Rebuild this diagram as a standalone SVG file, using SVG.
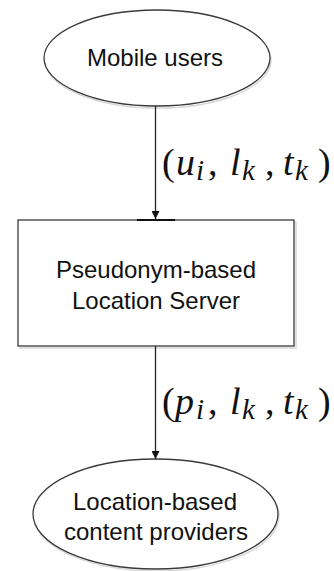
<svg xmlns="http://www.w3.org/2000/svg" width="334" height="571" viewBox="0 0 334 571">
  <style>
    .shape { fill: #ffffff; stroke: #3a3a3a; stroke-width: 1.3; }
    .shadow { fill: none; stroke: #d8d8d8; stroke-width: 1.5; }
    .label { font-family: "Liberation Sans", Arial, sans-serif; font-size: 24px; fill: #111111; text-anchor: middle; }
    .math { font-family: "Liberation Serif", "Times New Roman", serif; font-size: 38px; fill: #111111; }
    .it { font-style: italic; }
    .sub { font-style: italic; font-size: 29px; }
    .edge { stroke: #222222; stroke-width: 1.3; fill: none; }
  </style>
  <defs>
    <marker id="arrow" markerWidth="9" markerHeight="8" refX="8" refY="4" orient="auto" markerUnits="userSpaceOnUse">
      <path d="M0,0 L8,4 L0,8 Z" fill="#111111"/>
    </marker>
  </defs>
  <rect width="334" height="571" fill="#ffffff"/>

  <g id="mobile-users">
    <ellipse class="shadow" cx="158" cy="60" rx="113" ry="48"/>
    <ellipse class="shape" cx="157" cy="58" rx="113" ry="48"/>
    <text class="label" x="155" y="66">Mobile users</text>
  </g>

  <g id="location-server">
    <rect class="shadow" x="20" y="222" width="276" height="126"/>
    <rect class="shape" x="18" y="220" width="276" height="126"/>
    <line x1="137" y1="220" x2="175" y2="220" stroke="#111111" stroke-width="2"/>
    <text class="label" x="156" y="278">Pseudonym-based</text>
    <text class="label" x="156" y="309">Location Server</text>
  </g>

  <g id="content-providers">
    <ellipse class="shadow" cx="156.5" cy="516" rx="122.5" ry="55"/>
    <ellipse class="shape" cx="155.5" cy="514" rx="122.5" ry="55"/>
    <text class="label" x="155" y="510">Location-based</text>
    <text class="label" x="156" y="540">content providers</text>
  </g>

  <g id="connectors">
    <line class="edge" x1="155.5" y1="106" x2="155.5" y2="219" marker-end="url(#arrow)"/>
    <line class="edge" x1="155.5" y1="346" x2="155.5" y2="459" marker-end="url(#arrow)"/>
    <text class="math"><tspan x="162" y="175">(</tspan><tspan class="it" x="176" y="175">u</tspan><tspan class="sub" x="196" y="180">i</tspan><tspan x="208" y="175">,</tspan><tspan class="it" x="230" y="175">l</tspan><tspan class="sub" x="242" y="180">k</tspan><tspan x="265" y="175">,</tspan><tspan class="it" x="283" y="175">t</tspan><tspan class="sub" x="295" y="180">k</tspan><tspan x="318" y="175">)</tspan></text>
    <text class="math"><tspan x="162" y="414">(</tspan><tspan class="it" x="175" y="414">p</tspan><tspan class="sub" x="196" y="419">i</tspan><tspan x="208" y="414">,</tspan><tspan class="it" x="230" y="414">l</tspan><tspan class="sub" x="242" y="419">k</tspan><tspan x="265" y="414">,</tspan><tspan class="it" x="283" y="414">t</tspan><tspan class="sub" x="295" y="419">k</tspan><tspan x="318" y="414">)</tspan></text>
  </g>
</svg>
